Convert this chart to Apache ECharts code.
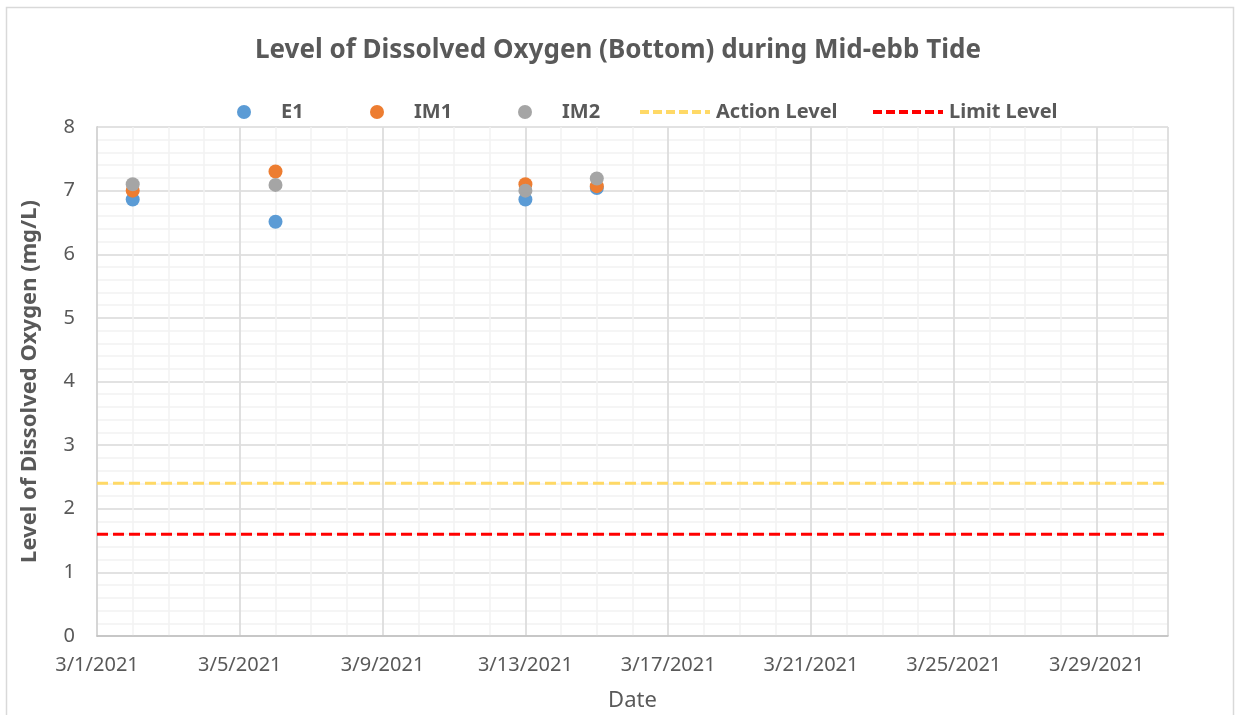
<!DOCTYPE html>
<html>
<head>
<meta charset="utf-8">
<script src="https://cdn.jsdelivr.net/npm/echarts@6/dist/echarts.min.js"></script>
<style>html,body{margin:0;padding:0;background:#fff}#c{width:1236px;height:715px}</style>
</head>
<body>
<div id="c"></div>
<script>
// Data
const dates = ['3/2/2021', '3/6/2021', '3/13/2021', '3/15/2021'];
const e1 = [6.86, 6.51, 6.86, 7.04];
const im1 = [7.00, 7.30, 7.10, 7.07];
const im2 = [7.10, 7.09, 7.00, 7.19];
const actionLevel = 2.4;
const limitLevel = 1.6;
const axisStartDate = '3/1/2021';
const axisDays = 30; // 3/1 .. 3/31

function dayOffset(s) {
  const [m, d, y] = s.split('/').map(Number);
  const [m0, d0, y0] = axisStartDate.split('/').map(Number);
  return Math.round((Date.UTC(y, m - 1, d) - Date.UTC(y0, m0 - 1, d0)) / 86400000);
}
function offsetLabel(v) {
  const [m0, d0, y0] = axisStartDate.split('/').map(Number);
  const dt = new Date(Date.UTC(y0, m0 - 1, d0) + v * 86400000);
  return (dt.getUTCMonth() + 1) + '/' + dt.getUTCDate() + '/' + dt.getUTCFullYear();
}
const pts = arr => dates.map((d, i) => [dayOffset(d), arr[i]]);
const fullLine = v => [[0, v], [axisDays, v]];

const font = 'Noto Sans';
const txt = '#595959';
const legTxt = {fontFamily: font, fontSize: 20, fontWeight: 'bold', color: txt};
function scatterLegend(name, left) {
  return {left: left, top: 97, itemWidth: 14, itemHeight: 14, icon: 'circle',
    textStyle: Object.assign({padding: [0, 0, 0, 25]}, legTxt), data: [name]};
}
function lineLegend(name, left) {
  return {left: left, top: 97, itemWidth: 70, itemHeight: 14,
    textStyle: Object.assign({padding: [0, 0, 0, 1]}, legTxt),
    lineStyle: {width: 4, type: [9, 4]},
    data: [{name: name, itemStyle: {opacity: 0}}]};
}
const chart = echarts.init(document.getElementById('c'), null, {renderer: 'canvas'});
chart.setOption({
  animation: false,
  backgroundColor: '#fff',
  textStyle: {fontFamily: font},
  graphic: [{type: 'rect', shape: {x: 6.5, y: 7.5, width: 1227, height: 720}, style: {fill: 'none', stroke: '#D9D9D9', lineWidth: 1.5}, silent: true}],
  title: {
    text: 'Level of Dissolved Oxygen (Bottom) during Mid-ebb Tide',
    left: 'center', top: 33,
    textStyle: {fontFamily: font, fontSize: 26, fontWeight: 'bold', color: txt}
  },
  legend: [
    scatterLegend('E1', 232),
    scatterLegend('IM1', 365),
    scatterLegend('IM2', 513),
    lineLegend('Action Level', 633),
    lineLegend('Limit Level', 866)
  ],
  grid: {left: 97, right: 68, top: 127, bottom: 79, containLabel: false, outerBoundsMode: 'none'},
  xAxis: [{
    type: 'value', min: 0, max: axisDays, interval: 4,
    name: 'Date', nameLocation: 'middle', nameGap: 54,
    nameTextStyle: {fontFamily: font, fontSize: 22, color: txt},
    axisLine: {show: true, lineStyle: {color: '#BFBFBF', width: 1.5}},
    axisTick: {show: false},
    axisLabel: {formatter: offsetLabel, showMaxLabel: false, margin: 19, fontSize: 20, color: txt, fontFamily: font},
    splitLine: {show: true, lineStyle: {color: '#D9D9D9', width: 1.5}},
    z: 2
  }, {
    type: 'value', min: 0, max: axisDays, interval: 1, position: 'bottom',
    axisLine: {show: false}, axisTick: {show: false}, axisLabel: {show: false},
    splitLine: {show: true, lineStyle: {color: '#F2F2F2', width: 1.5}},
    z: 0
  }],
  yAxis: [{
    type: 'value', min: 0, max: 8, interval: 1,
    name: 'Level of Dissolved Oxygen (mg/L)', nameLocation: 'middle', nameGap: 56,
    nameTextStyle: {fontFamily: font, fontSize: 22, fontWeight: 'bold', color: txt},
    axisLine: {show: true, lineStyle: {color: '#BFBFBF', width: 1.5}},
    axisTick: {show: false},
    axisLabel: {margin: 22, fontSize: 20, color: txt, fontFamily: font},
    splitLine: {show: true, lineStyle: {color: '#D9D9D9', width: 1.5}},
    minorTick: {show: false, splitNumber: 5},
    minorSplitLine: {show: true, lineStyle: {color: '#F2F2F2', width: 1.5}}
  }],
  series: [
    {name: 'Action Level', type: 'line', data: fullLine(actionLevel), symbol: 'none', showSymbol: false,
     itemStyle: {color: '#FFD966'}, lineStyle: {color: '#FFD966', width: 3, type: [11, 5]}, z: 3},
    {name: 'Limit Level', type: 'line', data: fullLine(limitLevel), symbol: 'none', showSymbol: false,
     itemStyle: {color: '#FF0000'}, lineStyle: {color: '#FF0000', width: 3, type: [11, 5]}, z: 3},
    {name: 'E1', type: 'scatter', data: pts(e1), symbol: 'circle', symbolSize: 14, itemStyle: {color: '#5B9BD5', opacity: 1}, z: 4},
    {name: 'IM1', type: 'scatter', data: pts(im1), symbol: 'circle', symbolSize: 14, itemStyle: {color: '#ED7D31', opacity: 1}, z: 5},
    {name: 'IM2', type: 'scatter', data: pts(im2), symbol: 'circle', symbolSize: 14, itemStyle: {color: '#A5A5A5', opacity: 1}, z: 6}
  ]
});
</script>
</body>
</html>
